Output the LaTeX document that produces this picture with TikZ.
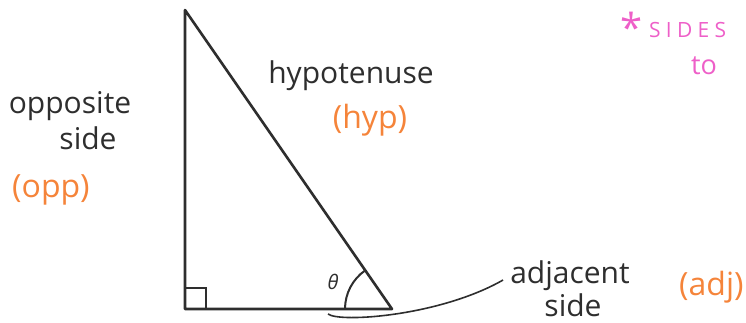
\documentclass[tikz,border=0pt]{standalone}
\usepackage{fontspec}
\setmainfont{Open Sans}
\newfontfamily\spacedfont[LetterSpace=25]{Open Sans}
\usetikzlibrary{positioning,calc}
\definecolor{Tangerine}{HTML}{F5843A}
\definecolor{Orchid}{HTML}{EE5FC8}
\definecolor{Pencil}{HTML}{2E2E2E}

\begin{document}
\begin{tikzpicture}[x=1pt,y=-1pt,
  side/.style={line width=2.6pt,line join=round,Pencil},
  hand/.style={font=\fontsize{30}{32}\selectfont,inner sep=0pt,Pencil},
  abbr/.style={font=\fontsize{32}{34}\selectfont,inner sep=0pt,Tangerine},
  note/.style={Orchid,inner sep=0pt}]
  \useasboundingbox (0,0) rectangle (746,322);
  \coordinate (top) at (185,10);
  \coordinate (corner) at (185,309);
  \coordinate (base) at (392,309);
  \draw[side] (top)--(corner)--(base)--cycle;
  \draw[Pencil,line width=1.8pt] ($(corner)+(0,-21)$) -| ($(corner)+(21,0)$);
  \draw[Pencil,line width=2pt] ($(base)+(-47,0)$) arc[start angle=180,end angle=235,radius=47];
  \node[Pencil,font=\itshape\fontsize{20}{22}\selectfont,inner sep=0pt] (theta) at (333,282) {θ};

  \node[hand] (hypo) at (351,76) {hypotenuse};
  \node[abbr] (hypab) at (370,120) {(hyp)};

  \node[hand] (oppo) at (70,106) {opposite};
  \node[hand] (oppside) at (88,138) {side};
  \node[abbr,anchor=west] (oppab) at (12,190) {(opp)};

  \node[hand] (adja) at (570,276) {adjacent};
  \node[hand] (adjside) at (573,305) {side};
  \node[abbr,anchor=west] (adjab) at (679,287) {(adj)};

  \coordinate (brace) at (328,314);
  \draw[Pencil,line width=1.6pt] (brace) .. controls (340,323) and (440,316) .. ([xshift=-7pt,yshift=-4pt]adja.west);

  \node[note,font=\fontsize{40}{40}\selectfont] (star) at (632,27) {*};
  \node[note,font=\spacedfont\fontsize{21}{22}\selectfont,anchor=west] (sides) at (649,30) {SIDES};
  \node[note,font=\fontsize{27}{28}\selectfont,anchor=west] (to) at (691,66) {to};
\end{tikzpicture}
\end{document}
